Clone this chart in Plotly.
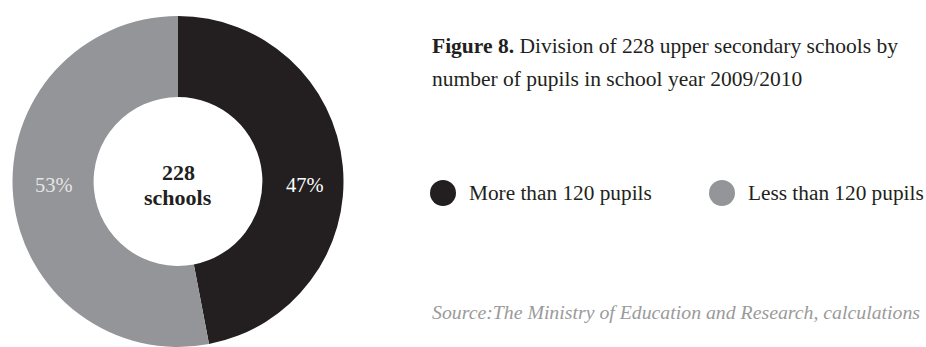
import plotly.graph_objects as go

# Share of upper secondary schools by number of pupils (school year 2009/2010)
categories = ["More than 120 pupils", "Less than 120 pupils"]
shares = [47, 53]
total_schools = 228
slice_colors = ["#231f20", "#939598"]

W, H = 926, 347
FONT = "Liberation Serif"
INK = "#231f20"


def px(x):
    return x / W


def py(y):
    return 1 - y / H


fig = go.Figure()

fig.add_trace(go.Pie(
    labels=categories,
    values=shares,
    marker=dict(colors=slice_colors, line=dict(width=0)),
    hole=0.51,
    sort=False,
    direction="clockwise",
    rotation=0,
    textinfo="none",
    hoverinfo="label+percent",
    showlegend=False,
    domain=dict(x=[px(12.5), px(343.5)], y=[0, py(16)]),
))

annotations = []


def note(x, y, text, size, color=INK, anchor="left"):
    annotations.append(dict(
        x=px(x), y=py(y), xref="paper", yref="paper",
        text=text, showarrow=False,
        font=dict(family=FONT, size=size, color=color),
        xanchor=anchor, yanchor="middle",
    ))


# percentage labels on the ring
label_pos = [(305, 185), (54, 185)]
label_colors = ["#ffffff", "#e6e6e6"]
for v, (x, y), c in zip(shares, label_pos, label_colors):
    note(x, y, f"{v}%", 20.5, c, "center")

# centre label
note(178, 172, f"<b>{total_schools}</b>", 22, INK, "center")
note(178, 197, "<b>schools</b>", 22, INK, "center")

# caption
note(430, 46, f"<b>Figure 8.</b> Division of {total_schools} upper secondary schools by", 21.5)
note(430, 79, "number of pupils in school year 2009/2010", 21.5)

# legend
legend_marks = [(443, 193), (722, 193)]
shapes = []
r = 13
for name, col, (cx, cy) in zip(categories, slice_colors, legend_marks):
    shapes.append(dict(
        type="circle", xref="paper", yref="paper",
        x0=px(cx - r), x1=px(cx + r), y0=py(cy + r), y1=py(cy - r),
        fillcolor=col, line=dict(width=0),
    ))
    note(cx + 24, cy, name, 21.3)

# source note
note(430, 312, "<i>Source:The Ministry of Education and Research, calculations</i>",
     19.8, "#9a9a9a")

fig.update_layout(
    width=W, height=H,
    margin=dict(l=0, r=0, t=0, b=0),
    paper_bgcolor="white", plot_bgcolor="white",
    annotations=annotations, shapes=shapes,
)

fig.write_html("out.html")
